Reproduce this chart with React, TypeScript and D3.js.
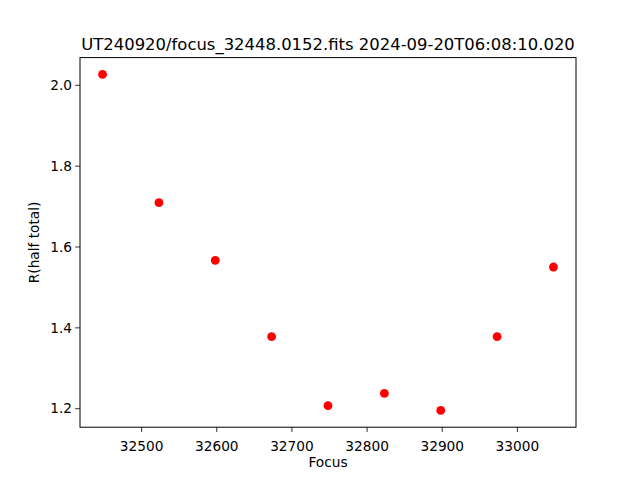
import React from "react";
import * as d3 from "d3";

const focusValues = [32448, 32523, 32598, 32673, 32748, 32823, 32898, 32973, 33048];
const radiusValues = [2.027, 1.7097, 1.567, 1.3785, 1.2074, 1.2379, 1.1958, 1.3785, 1.5505];
const xTicks = [32500, 32600, 32700, 32800, 32900, 33000];
const yTicks = [1.2, 1.4, 1.6, 1.8, 2.0];
const titleText = "UT240920/focus_32448.0152.fits 2024-09-20T06:08:10.020";
const xLabel = "Focus";
const yLabel = "R(half total)";

const W = 640, H = 480;
const left = 80, right = 576, top = 57.6, bottom = 427.2;

function padded(vals: number[]): [number, number] {
  const [a, b] = d3.extent(vals) as [number, number];
  const m = (b - a) * 0.05;
  return [a - m, b + m];
}

export default function App() {
  const x = d3.scaleLinear().domain(padded(focusValues)).range([left, right]);
  const y = d3.scaleLinear().domain(padded(radiusValues)).range([bottom, top]);
  const font = "'DejaVu Sans', sans-serif";
  return (
    <svg width={W} height={H} style={{ position: "absolute", left: 0, top: 0 }} fontFamily={font}>
      <rect width={W} height={H} fill="white" />
      {focusValues.map((f, i) => (
        <circle key={i} cx={x(f)} cy={y(radiusValues[i])} r={4.4} fill="#ff0000" />
      ))}
      <rect x={left} y={top} width={right - left} height={bottom - top} fill="none" stroke="black" strokeWidth={1} />
      {xTicks.map((t) => (
        <g key={t} transform={`translate(${x(t)},${bottom})`}>
          <line y1={0} y2={4.9} stroke="black" strokeWidth={0.8} />
          <text y={19} textAnchor="middle" fontSize={13.7} dy="0.35em" fill="black">{t}</text>
        </g>
      ))}
      {yTicks.map((t) => (
        <g key={t} transform={`translate(${left},${y(t)})`}>
          <line x1={0} x2={-4.9} stroke="black" strokeWidth={0.8} />
          <text x={-8} textAnchor="end" fontSize={13.7} dy="0.35em" fill="black">{t.toFixed(1)}</text>
        </g>
      ))}
      <text x={(left + right) / 2} y={467} textAnchor="middle" fontSize={13.7} fill="black">{xLabel}</text>
      <text transform={`translate(39,${(top + bottom) / 2}) rotate(-90)`} textAnchor="middle" fontSize={13.7} fill="black">{yLabel}</text>
      <text x={(left + right) / 2} y={50} textAnchor="middle" fontSize={16.45} fill="black">{titleText}</text>
    </svg>
  );
}
